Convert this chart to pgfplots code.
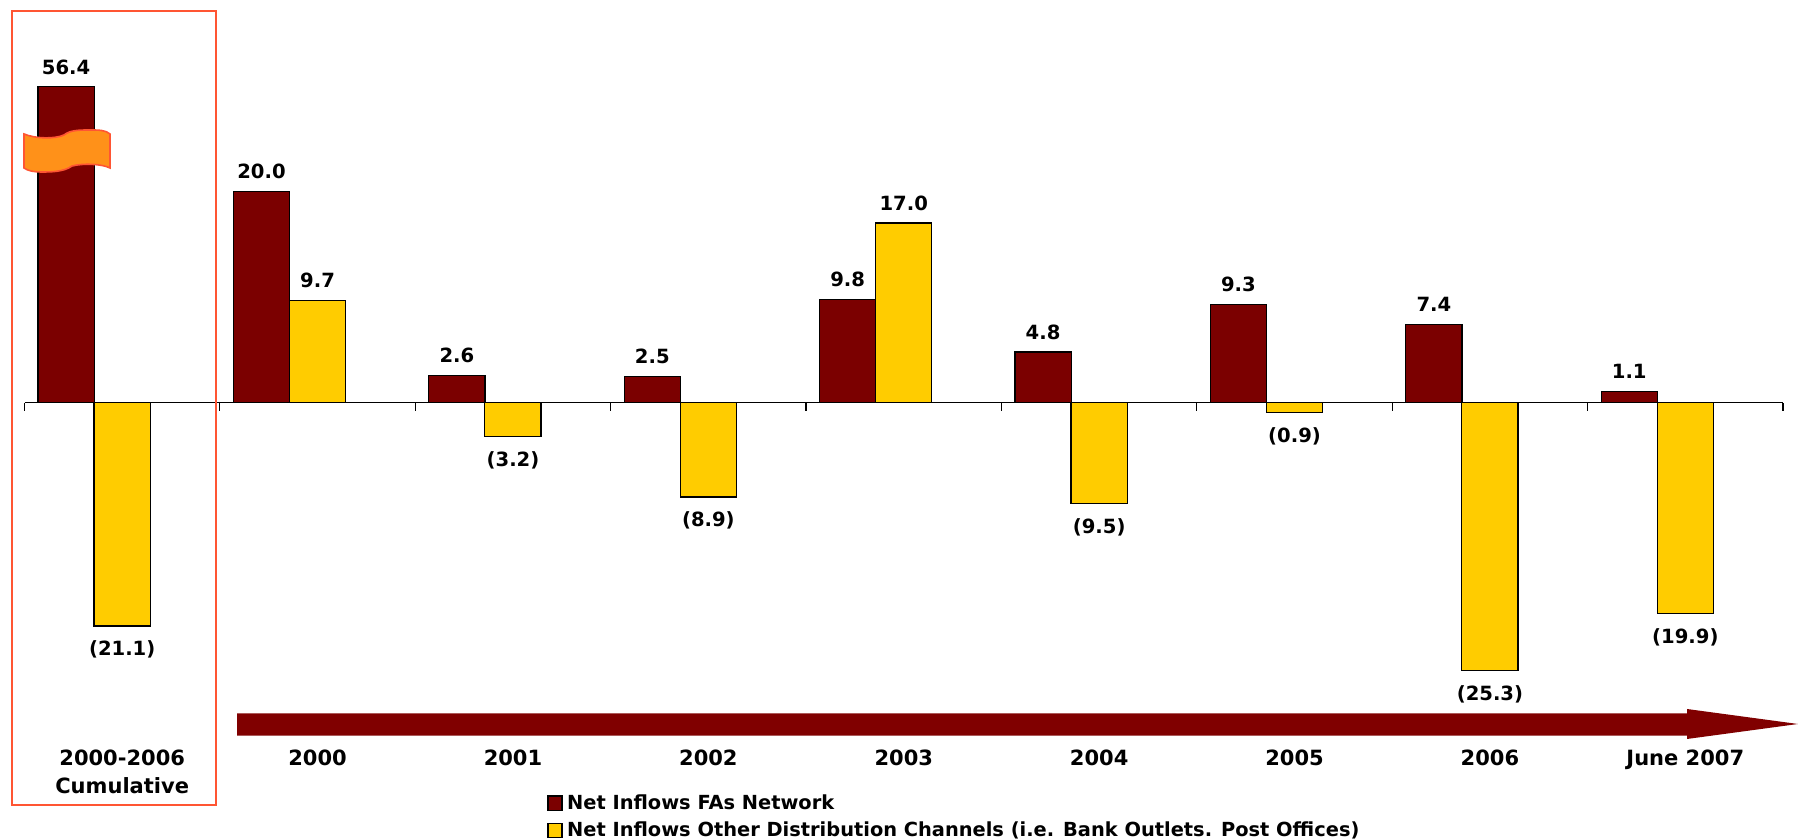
\documentclass[border=0pt]{standalone}
\usepackage{fontspec}
\setmainfont{DejaVu Sans}
\usepackage{pgfplots}
\usepackage{pgfplotstable}
\pgfplotsset{compat=1.18}
\definecolor{fasred}{HTML}{7B0000}
\definecolor{otheryellow}{HTML}{FFCC00}
\definecolor{framered}{HTML}{FF5533}
\definecolor{arrowred}{HTML}{800000}
\definecolor{bandorange}{HTML}{FF9119}
\pgfplotstableread{
x      v     lab
-0.287 56.4  56.4
0.713  20.0  20.0
1.713  2.6   2.6
2.713  2.5   2.5
3.713  9.8   9.8
4.713  4.8   4.8
5.713  9.3   9.3
6.713  7.4   7.4
7.713  1.1   1.1
}\fasnetwork
% other channels, inflow years
\pgfplotstableread{
x  v      lab
1  9.7    9.7
4  17.0   17.0
}\otherpositive
% other channels, outflow years
\pgfplotstableread{
x  v      lab
0  -21.1  (21.1)
2  -3.2   (3.2)
3  -8.9   (8.9)
5  -9.5   (9.5)
6  -0.9   (0.9)
7  -25.3  (25.3)
8  -19.9  (19.9)
}\othernegative
\begin{document}
\begin{tikzpicture}
\begin{axis}[
  at={(12.25pt,43.5pt)}, anchor=south west,
  scale only axis, width=879.25pt, height=335.5pt,
  clip=false,
  xmin=-0.5, xmax=8.5, ymin=-33, ymax=60,
  % values above 25 are compressed: the tallest bar is drawn with a broken scale
  y coord trafo/.code={\pgfmathparse{#1>25 ? 25+(#1-25)*0.155 : #1}},
  axis x line=middle, axis y line=none,
  axis line style={-, black, line width=0.6pt},
  xtick={0,...,8},
  xticklabels={{2000-2006\\Cumulative},2000,2001,2002,2003,2004,2005,2006,June 2007},
  minor xtick={-0.5,0.5,...,8.5},
  major tick length=0pt, minor tick length=4pt,
  tick align=outside, tick style={black, line width=0.6pt},
  xticklabel style={font=\fontsize{10.5}{14}\selectfont\bfseries, align=center, anchor=north, yshift=-170pt},
  ybar, bar width=28.1pt, bar shift=0pt,
  nodes near coords,
  point meta=explicit symbolic,
  every node near coord/.append style={font=\fontsize{9.8}{12}\selectfont\bfseries, black, inner ysep=6pt, anchor=south},
  legend style={at={(0.2971,-0.061)}, anchor=north west, draw=none, fill=none,
    font=\fontsize{9.7}{12}\selectfont\bfseries, inner sep=0pt, row sep=3.8pt,
    nodes={inner sep=0.5pt, anchor=west}},
  legend cell align=left,
]
\addplot[draw=black, line width=0.6pt, fill=fasred,
  legend image code/.code={\draw[draw=black,line width=0.6pt,fill=fasred] (0pt,-3.6pt) rectangle (7pt,3.6pt);}]
  table[x=x, y=v, meta=lab] {\fasnetwork};
\addlegendentry{\hspace*{1.8pt}Net Inflows FAs Network}
\addplot[draw=black, line width=0.6pt, fill=otheryellow,
  legend image code/.code={\draw[draw=black,line width=0.6pt,fill=otheryellow] (0pt,-3.6pt) rectangle (7pt,3.6pt);}]
  table[x=x, y=v, meta=lab] {\otherpositive};
\addlegendentry{\hspace*{1.8pt}Net Inflows Other Distribution Channels (i.e. Bank Outlets. Post Offices)}
\addplot[draw=black, line width=0.6pt, fill=otheryellow, forget plot,
  every node near coord/.append style={anchor=north, inner ysep=7.2pt}]
  table[x=x, y=v, meta=lab] {\othernegative};
\end{axis}
\begin{scope}[x=0.5pt,y=-0.5pt,yshift=419.5pt]
  % highlight frame round the cumulative group
  \draw[framered, line width=0.95pt] (11.7,10.7) rectangle (216,805);
  % scale-break band across the tallest bar
  \draw[framered, line width=0.8pt, fill=bandorange]
    (24,134) .. controls (36,139) and (55,139) .. (64,135)
    .. controls (70,130) and (80,130) .. (90,130)
    .. controls (98,130) and (106,130) .. (110,134)
    -- (110,168) .. controls (102,164) and (84,163) .. (72,166)
    .. controls (64,172) and (50,172) .. (42,172)
    .. controls (34,172) and (28,171) .. (24,168) -- cycle;
  % time arrow
  \fill[arrowred] (237,713.3) -- (1687,713.3) -- (1687,709) -- (1798,724) -- (1687,739) -- (1687,735.7) -- (237,735.7) -- cycle;
  % page extent
  \pgfresetboundingbox
  \useasboundingbox (0,0) rectangle (1798,839);
\end{scope}
\end{tikzpicture}
\end{document}
